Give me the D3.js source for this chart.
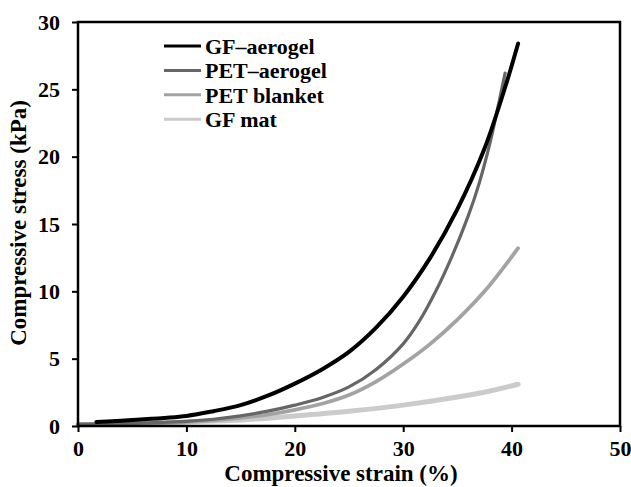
<!DOCTYPE html>
<html>
<head>
<meta charset="utf-8">
<script src="https://cdn.jsdelivr.net/npm/d3@7"></script>
<style>
  body { margin: 0; background: #fff; }
  text { font-family: "Liberation Serif", "Times New Roman", serif; font-weight: bold; fill: #000; }
</style>
</head>
<body>
<div id="chart"></div>
<script>
// values
const gfAerogelStrain = [1.7, 5, 10, 12.5, 15, 17.5, 20, 22.5, 25, 27.5, 30, 32.5, 35, 37.5, 39.5, 40.6];
const gfAerogelStress = [0.3, 0.45, 0.75, 1.1, 1.55, 2.25, 3.15, 4.2, 5.5, 7.3, 9.6, 12.5, 16.1, 20.6, 25.4, 28.4];

const petAerogelStrain = [0, 5, 10, 12.5, 15, 17.5, 20, 22.5, 25, 27.5, 30, 31.5, 33, 34.5, 36, 37, 38, 38.9, 39.4];
const petAerogelStress = [0.15, 0.2, 0.35, 0.5, 0.75, 1.1, 1.55, 2.1, 2.9, 4.2, 6.1, 7.8, 10.0, 12.6, 15.6, 18.0, 21.0, 24.3, 26.2];

const petBlanketStrain = [0, 5, 10, 12.5, 15, 17.5, 20, 22.5, 25, 27.5, 30, 32.5, 35, 37.5, 40.6];
const petBlanketStress = [0.1, 0.15, 0.3, 0.42, 0.6, 0.85, 1.2, 1.65, 2.3, 3.3, 4.6, 6.1, 7.9, 10.0, 13.2];

const gfMatStrain = [0, 5, 10, 15, 20, 25, 30, 35, 38, 40.6];
const gfMatStress = [0.1, 0.15, 0.3, 0.45, 0.75, 1.1, 1.55, 2.15, 2.6, 3.1];

const seriesNames = ["GF\u2013aerogel", "PET\u2013aerogel", "PET blanket", "GF mat"];
const xTicks = [0, 10, 20, 30, 40, 50];
const yTicks = [0, 5, 10, 15, 20, 25, 30];

const width = 631;
const height = 487;
const margin = {top: 22, left: 78, bottom: 61, right: 11};
const clipWidth = width - margin.left - margin.right;
const clipHeight = height - margin.top - margin.bottom;

const series = [
  {name: seriesNames[0], x: gfAerogelStrain, y: gfAerogelStress, color: "#000000", w: 4},
  {name: seriesNames[1], x: petAerogelStrain, y: petAerogelStress, color: "#666666", w: 3.2},
  {name: seriesNames[2], x: petBlanketStrain, y: petBlanketStress, color: "#a3a3a3", w: 3.8},
  {name: seriesNames[3], x: gfMatStrain, y: gfMatStress, color: "#cbcbcb", w: 5}
];

const svg = d3.select("#chart").append("svg")
    .attr("width", width)
    .attr("height", height);

const g = svg.append("g")
    .attr("transform", "translate(" + margin.left + "," + margin.top + ")");

const xScale = d3.scaleLinear().domain([0, 50]).range([0, clipWidth]);
const yScale = d3.scaleLinear().domain([0, 30]).range([clipHeight, 0]);

const line = d3.line()
    .x(d => xScale(d[0]))
    .y(d => yScale(d[1]))
    .curve(d3.curveCatmullRom.alpha(0.5));

// curves
g.append("g").selectAll("path")
    .data(series.slice().reverse())
    .enter()
    .append("path")
    .attr("d", s => line(s.x.map((v, i) => [v, s.y[i]])))
    .attr("fill", "none")
    .attr("stroke", s => s.color)
    .attr("stroke-width", s => s.w)
    .attr("stroke-linecap", "round")
    .attr("stroke-linejoin", "round");

// axes
const xAxis = g.append("g")
    .attr("transform", "translate(0," + clipHeight + ")")
    .call(d3.axisBottom(xScale).tickValues(xTicks).tickSize(6).tickPadding(8).tickSizeOuter(0));

const yAxis = g.append("g")
    .call(d3.axisLeft(yScale).tickValues(yTicks).tickSize(6).tickPadding(12).tickSizeOuter(0));

[xAxis, yAxis].forEach(a => {
  a.select(".domain").remove();
  a.selectAll("line").attr("stroke", "#000").attr("stroke-width", 2);
  a.selectAll("text").style("font-size", "22px").style("font-family", null);
});

// frame
g.append("rect")
    .attr("x", 0)
    .attr("y", 0)
    .attr("width", clipWidth)
    .attr("height", clipHeight)
    .attr("fill", "none")
    .attr("stroke", "#000")
    .attr("stroke-width", 2.5);

// axis titles
svg.append("text")
    .attr("x", 341)
    .attr("y", 481)
    .attr("text-anchor", "middle")
    .style("font-size", "23px")
    .text("Compressive strain (%)");

svg.append("text")
    .attr("transform", "translate(26,223) rotate(-90)")
    .attr("text-anchor", "middle")
    .style("font-size", "23px")
    .text("Compressive stress (kPa)");

// legend
const legend = svg.append("g")
    .selectAll("g")
    .data(series)
    .enter()
    .append("g")
    .attr("transform", (d, i) => "translate(164," + (46 + i * 24.4) + ")");

legend.append("line")
    .attr("x1", 0)
    .attr("x2", 37)
    .attr("stroke", d => d.color)
    .attr("stroke-width", 3);

legend.append("text")
    .attr("x", 41)
    .attr("dy", "0.35em")
    .style("font-size", "22px")
    .text(d => d.name);
</script>
</body>
</html>
